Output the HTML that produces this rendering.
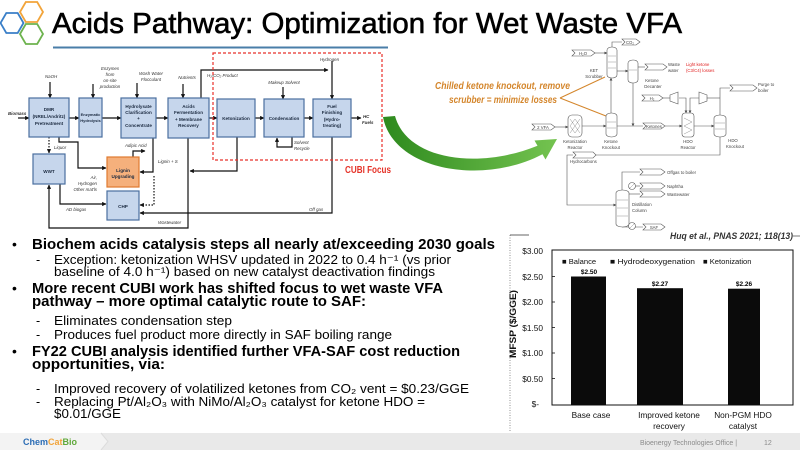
<!DOCTYPE html>
<html><head><meta charset="utf-8">
<style>
html,body{margin:0;padding:0;background:#fff;}
svg{display:block;}
text{font-family:"Liberation Sans",Arial,sans-serif;}
</style></head><body>
<svg width="800" height="450" viewBox="0 0 800 450" xmlns="http://www.w3.org/2000/svg">
<defs>
<marker id="ah" viewBox="0 0 10 10" refX="9" refY="5" markerWidth="3.6" markerHeight="3.6" orient="auto"><path d="M0,0 L10,5 L0,10 z" fill="#111"/></marker>
<marker id="ag" viewBox="0 0 10 10" refX="9" refY="5" markerWidth="5" markerHeight="5" orient="auto"><path d="M0,0 L10,5 L0,10 z" fill="#444"/></marker>
<linearGradient id="gg" x1="0" y1="0" x2="1" y2="0"><stop offset="0" stop-color="#2e8a1e"/><stop offset="1" stop-color="#74c350"/></linearGradient>
</defs>

<!-- Logo hexagons -->
<polygon points="0.5,23 6.3,13 17.7,13 23.5,23 17.7,33 6.3,33" fill="none" stroke="#3a7fc8" stroke-width="1.8"/>
<polygon points="20,12 25.8,2 37.2,2 43,12 37.2,22 25.8,22" fill="none" stroke="#f2a43a" stroke-width="1.8"/>
<polygon points="20,34 25.8,24 37.2,24 43,34 37.2,44 25.8,44" fill="none" stroke="#6db34e" stroke-width="1.8"/>

<!-- Title -->
<text x="52" y="33" font-size="29" fill="#000" stroke="#000" stroke-width="0.6" textLength="630" lengthAdjust="spacingAndGlyphs">Acids Pathway: Optimization for Wet Waste VFA</text>
<line x1="53" y1="47.5" x2="388" y2="47.5" stroke="#4a7ea8" stroke-width="2"/>

<!-- ===== Left process diagram ===== -->
<g stroke="#111" stroke-width="1.2" fill="none">
  <line x1="18" y1="118" x2="29" y2="118" marker-end="url(#ah)"/>
  <line x1="69" y1="118" x2="79" y2="118" marker-end="url(#ah)"/>
  <line x1="102" y1="118" x2="121" y2="118" marker-end="url(#ah)"/>
  <line x1="156" y1="118" x2="168" y2="118" marker-end="url(#ah)"/>
  <line x1="209" y1="118" x2="217" y2="118" marker-end="url(#ah)"/>
  <line x1="255" y1="118" x2="264" y2="118" marker-end="url(#ah)"/>
  <line x1="304" y1="118" x2="313" y2="118" marker-end="url(#ah)"/>
  <line x1="351" y1="118" x2="361" y2="118" marker-end="url(#ah)"/>
  <line x1="50" y1="82" x2="50" y2="98" marker-end="url(#ah)"/>
  <line x1="93" y1="84" x2="93" y2="98" marker-end="url(#ah)"/>
  <line x1="137" y1="83" x2="137" y2="98" marker-end="url(#ah)"/>
  <line x1="183" y1="84" x2="183" y2="98" marker-end="url(#ah)"/>
  <line x1="283" y1="87" x2="283" y2="99" marker-end="url(#ah)"/>
  <line x1="332" y1="61" x2="332" y2="99" marker-end="url(#ah)"/>
  <polyline points="201,98 201,70 328,70" marker-end="url(#ah)"/>
  <polyline points="292,137 292,147 277,147 277,138" marker-end="url(#ah)"/>
  <polyline points="332,137 332,213 140,213" marker-end="url(#ah)"/>
  <polyline points="237,137 237,171 190,171" marker-end="url(#ah)"/>
  <polyline points="188,138 188,228 49,228 49,185" marker-end="url(#ah)"/>
  <polyline points="59,137 59,142 78,142 78,168 106,168" marker-end="url(#ah)"/>
  <polyline points="133,157 133,151 145,151" marker-end="url(#ah)"/>
  <polyline points="153,138 153,172 140,172" marker-end="url(#ah)"/>
  <polyline points="60,184 60,204 106,204" marker-end="url(#ah)"/>
  <polyline points="154,176 154,205 140,205" stroke-dasharray="1.5,1.5" marker-end="url(#ah)"/>
  <line x1="49" y1="137" x2="49" y2="153" stroke-dasharray="1.5,1.5" marker-end="url(#ah)"/>
</g>
<g fill="#c6d6ec" stroke="#4a6f9f" stroke-width="1.2">
  <rect x="29" y="98" width="40" height="39"/>
  <rect x="79" y="98" width="23" height="39"/>
  <rect x="121" y="98" width="35" height="40"/>
  <rect x="168" y="98" width="41" height="40"/>
  <rect x="217" y="99" width="38" height="38"/>
  <rect x="264" y="99" width="40" height="38"/>
  <rect x="313" y="99" width="38" height="38"/>
  <rect x="33" y="154" width="32" height="30"/>
  <rect x="107" y="191" width="32" height="29"/>
</g>
<rect x="107" y="157" width="32" height="30" fill="#f5b07c" stroke="#e07a30" stroke-width="1.2"/>
<g font-size="4.6" font-weight="bold" fill="#1b2a40" text-anchor="middle">
  <text x="49" y="111">DMR</text><text x="49" y="118">(NREL/Andritz)</text><text x="49" y="125">Pretreatment</text>
  <text x="90.5" y="116" font-size="4">Enzymatic</text><text x="90.5" y="122" font-size="4">Hydrolysis</text>
  <text x="138.5" y="108">Hydrolysate</text><text x="138.5" y="114">Clarification</text><text x="138.5" y="120">+</text><text x="138.5" y="127">Concentrate</text>
  <text x="188.5" y="108">Acids</text><text x="188.5" y="114">Fermentation</text><text x="188.5" y="121">+ Membrane</text><text x="188.5" y="127">Recovery</text>
  <text x="236" y="120">Ketonization</text>
  <text x="284" y="120">Condensation</text>
  <text x="332" y="108">Fuel</text><text x="332" y="114">Finishing</text><text x="332" y="121">(Hydro-</text><text x="332" y="127">treating)</text>
  <text x="49" y="173">WWT</text>
  <text x="123" y="172">Lignin</text><text x="123" y="178">Upgrading</text>
  <text x="123" y="208">CHP</text>
</g>
<g font-size="4.4" font-style="italic" fill="#333">
  <text x="8" y="115" font-weight="bold">Biomass</text>
  <text x="45" y="78">NaOH</text>
  <text x="110" y="70" text-anchor="middle">Enzymes</text><text x="110" y="76" text-anchor="middle">from</text><text x="110" y="82" text-anchor="middle">on-site</text><text x="110" y="88" text-anchor="middle">production</text>
  <text x="151" y="75" text-anchor="middle">Wash Water</text><text x="151" y="81" text-anchor="middle">Flocculant</text>
  <text x="187" y="79" text-anchor="middle">Nutrients</text>
  <text x="207" y="77">H₂/CO₂ Product</text>
  <text x="320" y="61">Hydrogen</text>
  <text x="284" y="84" text-anchor="middle">Makeup Solvent</text>
  <text x="294" y="144">Solvent</text><text x="294" y="150">Recycle</text>
  <text x="363" y="118" font-weight="bold">HC</text><text x="362" y="124" font-weight="bold">Fuels</text>
  <text x="54" y="149">Liquor</text>
  <text x="125" y="147">Adipic Acid</text>
  <text x="158" y="163">Lignin + S</text>
  <text x="97" y="179" text-anchor="end">Air,</text><text x="97" y="185" text-anchor="end">Hydrogen</text><text x="97" y="191" text-anchor="end">Other mat'ls</text>
  <text x="66" y="211">AD biogas</text>
  <text x="158" y="224">Wastewater</text>
  <text x="309" y="211">Off gas</text>
</g>
<rect x="213" y="53" width="169" height="107" fill="none" stroke="#e8302a" stroke-width="1.2" stroke-dasharray="3,2"/>
<text x="345" y="173" font-size="10" font-weight="bold" fill="#e53228" textLength="46" lengthAdjust="spacingAndGlyphs">CUBI Focus</text>

<!-- Green curved arrow -->
<path d="M383,117 C393,170 482,186 542.5,154.3 L545.5,159.5 L557,139 L534.5,140.5 L537.5,145.7 C478,170 407,160 395,116 Z" fill="url(#gg)"/>

<!-- Orange annotation -->
<g font-size="10" font-weight="bold" font-style="italic" fill="#d4862c">
  <text x="435" y="89" textLength="135" lengthAdjust="spacingAndGlyphs">Chilled ketone knockout, remove</text>
  <text x="449" y="103" textLength="108" lengthAdjust="spacingAndGlyphs">scrubber = minimize losses</text>
</g>
<line x1="560" y1="98" x2="605" y2="77" stroke="#d4862c" stroke-width="1"/>
<line x1="560" y1="98" x2="606" y2="116" stroke="#d4862c" stroke-width="1"/>

<!-- ===== Right process diagram ===== -->
<g stroke="#555" stroke-width="0.6" fill="none">
  <line x1="595" y1="53" x2="607" y2="53" marker-end="url(#ag)"/>
  <polyline points="612,47 612,42 622,42"/>
  <line x1="617" y1="71" x2="628" y2="71" marker-end="url(#ag)"/>
  <line x1="638" y1="67" x2="645" y2="67"/>
  <line x1="633" y1="83" x2="633" y2="126" marker-end="url(#ag)"/>
  <line x1="611" y1="113" x2="611" y2="78" marker-end="url(#ag)"/>
  <line x1="555" y1="127" x2="568" y2="127" marker-end="url(#ag)"/>
  <line x1="582" y1="126" x2="606" y2="126" marker-end="url(#ag)"/>
  <line x1="617" y1="126" x2="643" y2="126"/>
  <line x1="665" y1="126" x2="682" y2="126" marker-end="url(#ag)"/>
  <line x1="694" y1="126" x2="714" y2="126" marker-end="url(#ag)"/>
  <line x1="663" y1="98" x2="670" y2="98"/>
  <polyline points="679,98 686,98 686,113" marker-end="url(#ag)"/>
  <polyline points="699,98 690,98 690,113" marker-end="url(#ag)"/>
  <polyline points="720,115 720,88 730,88"/>
  <line x1="720" y1="98" x2="707" y2="98"/>
  <polyline points="720,137 720,155 596,155"/>
  <polyline points="573,155 567,155 567,205 616,205" marker-end="url(#ag)"/>
  <polyline points="622,190 622,172 640,172"/>
  <line x1="629" y1="186" x2="640" y2="186"/>
  <line x1="629" y1="194" x2="640" y2="194"/>
  <line x1="622" y1="227" x2="643" y2="227"/>
</g>
<g fill="#fff" stroke="#555" stroke-width="0.6">
  <rect x="607" y="47" width="10" height="31" rx="5" ry="3"/>
  <rect x="628" y="60" width="10" height="23" rx="5" ry="3"/>
  <rect x="606" y="113" width="11" height="24" rx="5.5" ry="3"/>
  <rect x="714" y="115" width="12" height="22" rx="6" ry="3"/>
  <rect x="616" y="190" width="13" height="37" rx="6.5" ry="3"/>
  <rect x="682" y="113" width="12" height="24" rx="3"/>
  <rect x="568" y="115" width="14" height="22" rx="4"/>
  <polygon points="670,95 678,92 678,104 670,101"/>
  <polygon points="707,95 699,92 699,104 707,101"/>
  <circle cx="632" cy="186" r="3.5"/>
  <circle cx="632" cy="226" r="3.5"/>
  <polygon points="572,50 591,50 595,53 591,56 572,56 575,53"/>
  <polygon points="622,39 636,39 640,42 636,45 622,45 625,42"/>
  <polygon points="645,64 663,64 667,67 663,70 645,70 648,67"/>
  <polygon points="730,85 753,85 757,88 753,91 730,91 733,88"/>
  <polygon points="642,95 659,95 663,98 659,101 642,101 645,98"/>
  <polygon points="643,123 661,123 665,126 661,129 643,129 646,126"/>
  <polygon points="532,124 551,124 555,127 551,130 532,130 535,127"/>
  <polygon points="573,152 593,152 596,155 593,158 573,158 576,155"/>
  <polygon points="640,169 661,169 665,172 661,175 640,175 643,172"/>
  <polygon points="640,183 661,183 665,186 661,189 640,189 643,186"/>
  <polygon points="640,191 661,191 665,194 661,197 640,197 643,194"/>
  <polygon points="643,224 661,224 665,227 661,230 643,230 646,227"/>
</g>
<g stroke="#777" stroke-width="0.4" fill="none">
  <line x1="608" y1="56" x2="616" y2="56"/><line x1="608" y1="62" x2="616" y2="62"/><line x1="608" y1="68" x2="616" y2="68"/>
  <line x1="629" y1="70" x2="637" y2="70"/>
  <line x1="607" y1="122" x2="616" y2="122"/><line x1="607" y1="128" x2="616" y2="128"/>
  <line x1="715" y1="123" x2="725" y2="123"/><line x1="715" y1="129" x2="725" y2="129"/>
  <line x1="617" y1="200" x2="628" y2="200"/><line x1="617" y1="208" x2="628" y2="208"/><line x1="617" y1="216" x2="628" y2="216"/>
  <path d="M684,118 L692,122 L684,126 L692,130 L684,134"/>
  <path d="M570,119 L580,133 M580,119 L570,133 M570,126 L575,119 L580,126 L575,133 Z"/>
  <line x1="629" y1="189" x2="635" y2="183"/><line x1="629" y1="229" x2="635" y2="223"/>
</g>
<g font-size="4.3" fill="#444">
  <text x="583" y="55" text-anchor="middle">H₂O</text>
  <text x="630" y="44" text-anchor="middle">CO₂</text>
  <text x="594" y="72" text-anchor="middle">KET</text><text x="594" y="78" text-anchor="middle">Scrubber</text>
  <text x="652" y="82" text-anchor="middle">Ketone</text><text x="653" y="88" text-anchor="middle">Decanter</text>
  <text x="668" y="66">Waste</text><text x="668" y="72">water</text>
  <text x="686" y="66" fill="#e02020">Light ketone</text><text x="686" y="72" fill="#e02020">(C3/C4) losses</text>
  <text x="758" y="86">Purge to</text><text x="758" y="92">boiler</text>
  <text x="652" y="100" text-anchor="middle">H₂</text>
  <text x="654" y="128" text-anchor="middle">Ketones</text>
  <text x="543" y="129" text-anchor="middle">2 VFA</text>
  <text x="575" y="143" text-anchor="middle">Ketonization</text><text x="575" y="149" text-anchor="middle">Reactor</text>
  <text x="611" y="143" text-anchor="middle">Ketone</text><text x="611" y="149" text-anchor="middle">Knockout</text>
  <text x="688" y="143" text-anchor="middle">HDO</text><text x="688" y="149" text-anchor="middle">Reactor</text>
  <text x="733" y="142" text-anchor="middle">HDO</text><text x="735" y="148" text-anchor="middle">Knockout</text>
  <text x="570" y="163">Hydrocarbons</text>
  <text x="667" y="174">Offgas to boiler</text>
  <text x="667" y="188">Naphtha</text>
  <text x="667" y="196">Wastewater</text>
  <text x="632" y="206">Distillation</text><text x="632" y="212">Column</text>
  <text x="654" y="229" text-anchor="middle">SAF</text>
</g>

<!-- Citation -->
<text x="670" y="239" font-size="9" font-weight="bold" font-style="italic" fill="#333" textLength="123" lengthAdjust="spacingAndGlyphs">Huq et al., PNAS 2021; 118(13)</text>
<line x1="793" y1="236" x2="800" y2="236" stroke="#555" stroke-width="0.8"/>

<!-- ===== Chart ===== -->
<line x1="510" y1="235" x2="510" y2="432" stroke="#777" stroke-width="0.8" stroke-dasharray="1,1.5"/>
<line x1="510" y1="235" x2="529" y2="235" stroke="#333" stroke-width="0.8"/>
<rect x="552" y="250" width="241" height="155" fill="none" stroke="#111" stroke-width="1"/>
<g stroke="#111" stroke-width="0.8">
  <line x1="552" y1="276.5" x2="555" y2="276.5"/><line x1="552" y1="302" x2="555" y2="302"/>
  <line x1="552" y1="327.5" x2="555" y2="327.5"/><line x1="552" y1="353" x2="555" y2="353"/>
  <line x1="552" y1="378.5" x2="555" y2="378.5"/>
</g>
<g fill="#0b0b0b">
  <rect x="571" y="276.5" width="35" height="128.5"/>
  <rect x="637" y="288.2" width="46" height="116.8"/>
  <rect x="728" y="288.7" width="32" height="116.3"/>
</g>
<g font-size="8.3" fill="#111" text-anchor="end">
  <text x="543" y="254">$3.00</text><text x="543" y="280">$2.50</text><text x="543" y="305">$2.00</text>
  <text x="543" y="331">$1.50</text><text x="543" y="356">$1.00</text><text x="543" y="382">$0.50</text>
  <text x="539" y="407">$-</text>
</g>
<text transform="translate(516,324) rotate(-90)" font-size="9" font-weight="bold" fill="#111" text-anchor="middle" textLength="68" lengthAdjust="spacingAndGlyphs">MFSP ($/GGE)</text>
<g font-size="7.6" fill="#111">
  <text x="562" y="264">■ Balance</text>
  <text x="610" y="264" textLength="85" lengthAdjust="spacingAndGlyphs">■ Hydrodeoxygenation</text>
  <text x="703" y="264">■ Ketonization</text>
</g>
<g font-size="6.5" font-weight="bold" fill="#000" text-anchor="middle">
  <text x="589" y="274">$2.50</text><text x="660" y="286">$2.27</text><text x="744" y="286">$2.26</text>
</g>
<g font-size="8.3" fill="#111" text-anchor="middle">
  <text x="591" y="418">Base case</text>
  <text x="669" y="418">Improved ketone</text><text x="669" y="429">recovery</text>
  <text x="743" y="418">Non-PGM HDO</text><text x="743" y="429">catalyst</text>
</g>

<!-- ===== Bullets ===== -->
<g fill="#000">
  <text x="12" y="249" font-size="14">•</text>
  <text x="32" y="249" font-size="15" font-weight="bold" textLength="463" lengthAdjust="spacingAndGlyphs">Biochem acids catalysis steps all nearly at/exceeding 2030 goals</text>
  <text x="36" y="264" font-size="12.5">-</text>
  <text x="54" y="264" font-size="12.5" textLength="397" lengthAdjust="spacingAndGlyphs">Exception: ketonization WHSV updated in 2022 to 0.4 h⁻¹ (vs prior</text>
  <text x="54" y="276" font-size="12.5" textLength="381" lengthAdjust="spacingAndGlyphs">baseline of 4.0 h⁻¹) based on new catalyst deactivation findings</text>
  <text x="12" y="293" font-size="14">•</text>
  <text x="32" y="293" font-size="15" font-weight="bold" textLength="411" lengthAdjust="spacingAndGlyphs">More recent CUBI work has shifted focus to wet waste VFA</text>
  <text x="32" y="306" font-size="15" font-weight="bold" textLength="334" lengthAdjust="spacingAndGlyphs">pathway – more optimal catalytic route to SAF:</text>
  <text x="36" y="325" font-size="12.5">-</text>
  <text x="54" y="325" font-size="12.5" textLength="178" lengthAdjust="spacingAndGlyphs">Eliminates condensation step</text>
  <text x="36" y="339" font-size="12.5">-</text>
  <text x="54" y="339" font-size="12.5" textLength="338" lengthAdjust="spacingAndGlyphs">Produces fuel product more directly in SAF boiling range</text>
  <text x="12" y="356" font-size="14">•</text>
  <text x="32" y="356" font-size="15" font-weight="bold" textLength="428" lengthAdjust="spacingAndGlyphs">FY22 CUBI analysis identified further VFA-SAF cost reduction</text>
  <text x="32" y="369" font-size="15" font-weight="bold" textLength="133" lengthAdjust="spacingAndGlyphs">opportunities, via:</text>
  <text x="36" y="393" font-size="12.5">-</text>
  <text x="54" y="393" font-size="12.5" textLength="415" lengthAdjust="spacingAndGlyphs">Improved recovery of volatilized ketones from CO₂ vent = $0.23/GGE</text>
  <text x="36" y="406" font-size="12.5">-</text>
  <text x="54" y="406" font-size="12.5" textLength="371" lengthAdjust="spacingAndGlyphs">Replacing Pt/Al₂O₃ with NiMo/Al₂O₃ catalyst for ketone HDO =</text>
  <text x="54" y="418" font-size="12.5" textLength="67" lengthAdjust="spacingAndGlyphs">$0.01/GGE</text>
</g>

<!-- ===== Footer ===== -->
<rect x="0" y="433" width="800" height="17" fill="#e9e9e9"/>
<polygon points="0,433 101,433 108,441.5 101,450 0,450" fill="#f3f3f3"/>
<polyline points="101,433 108,441.5 101,450" fill="none" stroke="#dcdcdc" stroke-width="1"/>
<text x="23" y="445" font-size="9" font-weight="bold"><tspan fill="#2c6db5">Chem</tspan><tspan fill="#f2a43a">Cat</tspan><tspan fill="#5fa83a">Bio</tspan></text>
<text x="640" y="445" font-size="7.5" fill="#8a8a8a" textLength="97" lengthAdjust="spacingAndGlyphs">Bioenergy Technologies Office  |</text>
<text x="764" y="445" font-size="7" fill="#8a8a8a">12</text>
</svg>
</body></html>
